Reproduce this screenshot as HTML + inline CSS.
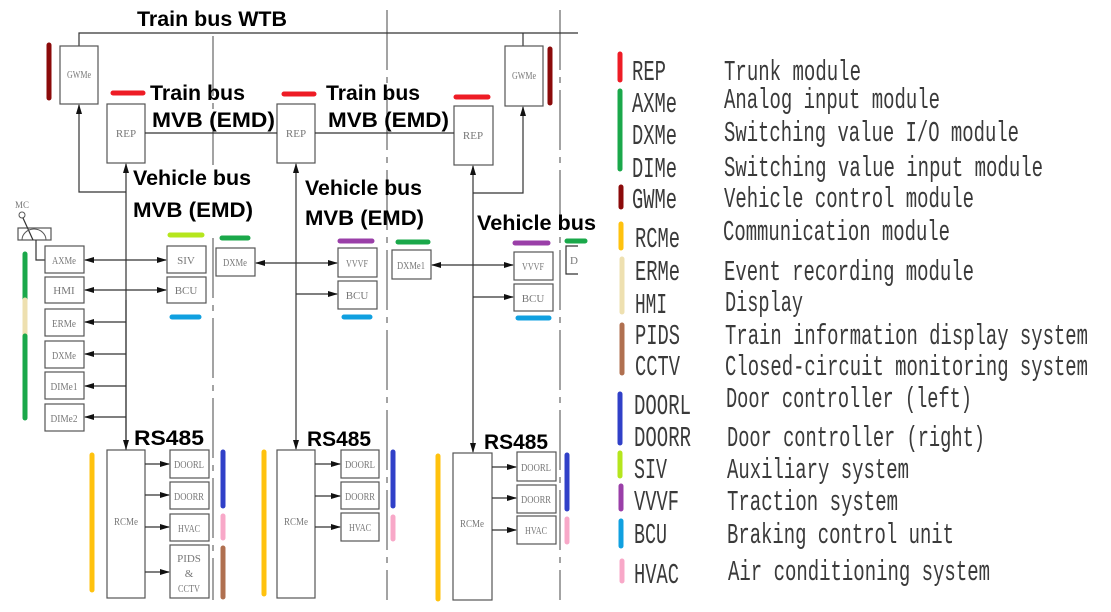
<!DOCTYPE html>
<html><head><meta charset="utf-8"><style>
html,body{margin:0;padding:0;background:#fff;width:1111px;height:612px;overflow:hidden}
svg{display:block}
.b{fill:#fff;stroke:#555;stroke-width:1.2}
.l{stroke:#333;stroke-width:1.2;fill:none}
.d{stroke:#666;stroke-width:1.2;stroke-dasharray:60 7 6 7;fill:none}
.t{font-family:"Liberation Serif",serif;font-size:11px;fill:#777;text-anchor:middle}
.h{font-family:"Liberation Sans",sans-serif;font-weight:bold;font-size:21px;fill:#000}
.g{font-family:"Liberation Mono",monospace;font-size:29px;fill:#3a3a3a}
.bar{stroke-linecap:round;stroke-width:5}
</style></head><body>
<svg width="1111" height="612" viewBox="0 0 1111 612" xmlns="http://www.w3.org/2000/svg">
<defs><marker id="a" markerWidth="10" markerHeight="8" refX="9" refY="4" orient="auto" markerUnits="userSpaceOnUse"><path d="M0,1 L10,4 L0,7 Z" fill="#111"/></marker></defs>

<line class="d" x1="213" y1="36" x2="213" y2="165"/>
<line class="d" x1="213" y1="238" x2="213" y2="600"/>
<line class="d" x1="387" y1="10" x2="387" y2="600"/>
<line class="d" x1="560" y1="10" x2="560" y2="600"/>

<text class="h" x="137" y="26" textLength="150" lengthAdjust="spacingAndGlyphs">Train bus WTB</text>
<polyline class="l" points="79,46 79,33 578,33"/>
<line class="l" x1="523" y1="33" x2="523" y2="46"/>

<rect class="b" x="60" y="46" width="38" height="58"/><text class="t" x="79" y="78" textLength="24" lengthAdjust="spacingAndGlyphs">GWMe</text>
<rect class="b" x="505" y="46" width="38" height="60"/><text class="t" x="524" y="79" textLength="24" lengthAdjust="spacingAndGlyphs">GWMe</text>
<line class="bar" x1="49" y1="45" x2="49" y2="98" stroke="#8b0a0a"/>
<line class="bar" x1="550" y1="49" x2="550" y2="103" stroke="#8b0a0a"/>

<rect class="b" x="107" y="104" width="38" height="59"/><text class="t" x="126" y="137">REP</text>
<rect class="b" x="277" y="104" width="38" height="59"/><text class="t" x="296" y="137">REP</text>
<rect class="b" x="454" y="106" width="39" height="59"/><text class="t" x="473" y="139">REP</text>
<line class="bar" x1="113" y1="93" x2="143" y2="93" stroke="#ee1c25"/>
<line class="bar" x1="284" y1="94" x2="314" y2="94" stroke="#ee1c25"/>
<line class="bar" x1="456" y1="97" x2="488" y2="97" stroke="#ee1c25"/>
<line class="l" x1="145" y1="133" x2="277" y2="133"/>
<line class="l" x1="315" y1="133" x2="454" y2="133"/>
<text class="h" x="150" y="100" textLength="95" lengthAdjust="spacingAndGlyphs">Train bus</text>
<text class="h" x="152" y="127" textLength="123" lengthAdjust="spacingAndGlyphs">MVB (EMD)</text>
<text class="h" x="326" y="100" textLength="94" lengthAdjust="spacingAndGlyphs">Train bus</text>
<text class="h" x="328" y="127" textLength="121" lengthAdjust="spacingAndGlyphs">MVB (EMD)</text>

<line class="l" x1="126" y1="450" x2="126" y2="164" marker-end="url(#a)"/>
<line class="l" x1="126" y1="300" x2="126" y2="449" marker-end="url(#a)"/>
<polyline class="l" points="126,192 79,192 79,105" marker-end="url(#a)"/>
<line class="l" x1="296" y1="300" x2="296" y2="164" marker-end="url(#a)"/>
<line class="l" x1="296" y1="300" x2="296" y2="449" marker-end="url(#a)"/>
<line class="l" x1="473" y1="300" x2="473" y2="166" marker-end="url(#a)"/>
<line class="l" x1="473" y1="300" x2="473" y2="452" marker-end="url(#a)"/>
<polyline class="l" points="473,193 523,193 523,107" marker-end="url(#a)"/>

<text class="h" x="133" y="185" textLength="118" lengthAdjust="spacingAndGlyphs">Vehicle bus</text>
<text class="h" x="133" y="217" textLength="120" lengthAdjust="spacingAndGlyphs">MVB (EMD)</text>
<text class="h" x="305" y="195" textLength="117" lengthAdjust="spacingAndGlyphs">Vehicle bus</text>
<text class="h" x="305" y="225" textLength="119" lengthAdjust="spacingAndGlyphs">MVB (EMD)</text>
<text class="h" x="477" y="230" textLength="119" lengthAdjust="spacingAndGlyphs">Vehicle bus</text>

<text class="t" x="22" y="208" style="font-size:9px">MC</text>
<circle cx="22" cy="215" r="3" fill="#fff" stroke="#555"/>
<rect class="b" x="18" y="228" width="33" height="12"/>
<line class="l" x1="23" y1="218" x2="33" y2="240" stroke="#555"/>
<path d="M22,240 A12,11 0 0 1 46,240" fill="none" stroke="#555"/>
<polyline class="l" points="36,240 36,260 45,260" stroke="#555"/>

<g>
<rect class="b" x="45" y="246" width="39" height="27"/><text class="t" x="64" y="264" textLength="24" lengthAdjust="spacingAndGlyphs">AXMe</text>
<rect class="b" x="45" y="277" width="39" height="26"/><text class="t" x="64" y="294">HMI</text>
<rect class="b" x="45" y="309" width="39" height="27"/><text class="t" x="64" y="327" textLength="24" lengthAdjust="spacingAndGlyphs">ERMe</text>
<rect class="b" x="45" y="341" width="39" height="27"/><text class="t" x="64" y="359" textLength="24" lengthAdjust="spacingAndGlyphs">DXMe</text>
<rect class="b" x="45" y="372" width="39" height="27"/><text class="t" x="64" y="390" textLength="27" lengthAdjust="spacingAndGlyphs">DIMe1</text>
<rect class="b" x="45" y="404" width="39" height="27"/><text class="t" x="64" y="422" textLength="27" lengthAdjust="spacingAndGlyphs">DIMe2</text>
</g>
<line class="bar" x1="25" y1="254" x2="25" y2="300" stroke="#1aa84a"/>
<line class="bar" x1="25" y1="300" x2="25" y2="335" stroke="#eee0b0"/>
<line class="bar" x1="25" y1="336" x2="25" y2="418" stroke="#1aa84a"/>
<line class="l" x1="126" y1="322" x2="85" y2="322" marker-end="url(#a)"/>
<line class="l" x1="126" y1="354" x2="85" y2="354" marker-end="url(#a)"/>
<line class="l" x1="126" y1="386" x2="85" y2="386" marker-end="url(#a)"/>
<line class="l" x1="126" y1="417" x2="85" y2="417" marker-end="url(#a)"/>
<line class="l" x1="105" y1="260" x2="85" y2="260" marker-end="url(#a)"/>
<line class="l" x1="105" y1="260" x2="166" y2="260" marker-end="url(#a)"/>
<line class="l" x1="105" y1="290" x2="85" y2="290" marker-end="url(#a)"/>
<line class="l" x1="105" y1="290" x2="166" y2="290" marker-end="url(#a)"/>

<rect class="b" x="167" y="246" width="39" height="27"/><text class="t" x="186" y="264">SIV</text>
<rect class="b" x="167" y="277" width="39" height="26"/><text class="t" x="186" y="294">BCU</text>
<line class="bar" x1="170" y1="235" x2="202" y2="235" stroke="#b5e61d"/>
<line class="bar" x1="172" y1="317" x2="199" y2="317" stroke="#10a0e0"/>

<rect class="b" x="216" y="248" width="39" height="28"/><text class="t" x="235" y="266" textLength="24" lengthAdjust="spacingAndGlyphs">DXMe</text>
<line class="bar" x1="222" y1="238" x2="248" y2="238" stroke="#1aa84a"/>
<line class="l" x1="280" y1="263" x2="256" y2="263" marker-end="url(#a)"/>
<line class="l" x1="280" y1="263" x2="337" y2="263" marker-end="url(#a)"/>

<rect class="b" x="338" y="248" width="39" height="29"/><text class="t" x="357" y="267" textLength="22" lengthAdjust="spacingAndGlyphs">VVVF</text>
<rect class="b" x="338" y="281" width="39" height="28"/><text class="t" x="357" y="299">BCU</text>
<line class="bar" x1="340" y1="241" x2="372" y2="241" stroke="#9a3fa8"/>
<line class="bar" x1="344" y1="317" x2="370" y2="317" stroke="#10a0e0"/>
<line class="l" x1="296" y1="294" x2="337" y2="294" marker-end="url(#a)"/>

<rect class="b" x="392" y="250" width="39" height="29"/><text class="t" x="411" y="269" textLength="28" lengthAdjust="spacingAndGlyphs">DXMe1</text>
<line class="bar" x1="398" y1="242" x2="428" y2="242" stroke="#1aa84a"/>
<line class="l" x1="470" y1="265" x2="432" y2="265" marker-end="url(#a)"/>
<line class="l" x1="470" y1="265" x2="513" y2="265" marker-end="url(#a)"/>

<rect class="b" x="514" y="252" width="39" height="28"/><text class="t" x="533" y="270" textLength="22" lengthAdjust="spacingAndGlyphs">VVVF</text>
<rect class="b" x="514" y="284" width="39" height="27"/><text class="t" x="533" y="302">BCU</text>
<line class="bar" x1="515" y1="243" x2="548" y2="243" stroke="#9a3fa8"/>
<line class="bar" x1="518" y1="318" x2="549" y2="318" stroke="#10a0e0"/>
<line class="l" x1="473" y1="297" x2="513" y2="297" marker-end="url(#a)"/>
<polyline class="l" points="578,246 566,246 566,274 578,274" stroke="#555"/>
<text class="t" x="574" y="264">D</text>
<line class="bar" x1="567" y1="241" x2="585" y2="241" stroke="#1aa84a"/>

<text class="h" x="134" y="445" textLength="70" lengthAdjust="spacingAndGlyphs">RS485</text>
<text class="h" x="307" y="446" textLength="64" lengthAdjust="spacingAndGlyphs">RS485</text>
<text class="h" x="484" y="449" textLength="64" lengthAdjust="spacingAndGlyphs">RS485</text>

<rect class="b" x="107" y="450" width="38" height="148"/><text class="t" x="126" y="525" textLength="24" lengthAdjust="spacingAndGlyphs">RCMe</text>
<line class="bar" x1="92" y1="455" x2="92" y2="590" stroke="#ffc20e"/>
<rect class="b" x="170" y="450" width="39" height="28"/><text class="t" x="189" y="468" textLength="30" lengthAdjust="spacingAndGlyphs">DOORL</text>
<rect class="b" x="170" y="482" width="39" height="27"/><text class="t" x="189" y="500" textLength="30" lengthAdjust="spacingAndGlyphs">DOORR</text>
<rect class="b" x="170" y="514" width="39" height="27"/><text class="t" x="189" y="532" textLength="22" lengthAdjust="spacingAndGlyphs">HVAC</text>
<rect class="b" x="170" y="545" width="39" height="53"/><text class="t" x="189" y="562">PIDS</text><text class="t" x="189" y="577">&amp;</text><text class="t" x="189" y="592" textLength="22" lengthAdjust="spacingAndGlyphs">CCTV</text>
<line class="l" x1="145" y1="464" x2="169" y2="464" marker-end="url(#a)"/>
<line class="l" x1="145" y1="495" x2="169" y2="495" marker-end="url(#a)"/>
<line class="l" x1="145" y1="527" x2="169" y2="527" marker-end="url(#a)"/>
<line class="l" x1="145" y1="572" x2="169" y2="572" marker-end="url(#a)"/>
<line class="bar" x1="223" y1="452" x2="223" y2="506" stroke="#3040c8"/>
<line class="bar" x1="223" y1="516" x2="223" y2="538" stroke="#f8a8c8"/>
<line class="bar" x1="223" y1="548" x2="223" y2="597" stroke="#b07050"/>

<rect class="b" x="277" y="450" width="38" height="148"/><text class="t" x="296" y="525" textLength="24" lengthAdjust="spacingAndGlyphs">RCMe</text>
<line class="bar" x1="264" y1="452" x2="264" y2="594" stroke="#ffc20e"/>
<rect class="b" x="341" y="450" width="38" height="28"/><text class="t" x="360" y="468" textLength="30" lengthAdjust="spacingAndGlyphs">DOORL</text>
<rect class="b" x="341" y="482" width="38" height="27"/><text class="t" x="360" y="500" textLength="30" lengthAdjust="spacingAndGlyphs">DOORR</text>
<rect class="b" x="341" y="513" width="38" height="28"/><text class="t" x="360" y="531" textLength="22" lengthAdjust="spacingAndGlyphs">HVAC</text>
<line class="l" x1="315" y1="464" x2="340" y2="464" marker-end="url(#a)"/>
<line class="l" x1="315" y1="496" x2="340" y2="496" marker-end="url(#a)"/>
<line class="l" x1="315" y1="527" x2="340" y2="527" marker-end="url(#a)"/>
<line class="bar" x1="393" y1="452" x2="393" y2="506" stroke="#3040c8"/>
<line class="bar" x1="393" y1="517" x2="393" y2="539" stroke="#f8a8c8"/>

<rect class="b" x="453" y="453" width="39" height="147"/><text class="t" x="472" y="527" textLength="24" lengthAdjust="spacingAndGlyphs">RCMe</text>
<line class="bar" x1="438" y1="456" x2="438" y2="599" stroke="#ffc20e"/>
<rect class="b" x="517" y="452" width="39" height="29"/><text class="t" x="536" y="471" textLength="30" lengthAdjust="spacingAndGlyphs">DOORL</text>
<rect class="b" x="517" y="485" width="39" height="28"/><text class="t" x="536" y="503" textLength="30" lengthAdjust="spacingAndGlyphs">DOORR</text>
<rect class="b" x="517" y="516" width="39" height="28"/><text class="t" x="536" y="534" textLength="22" lengthAdjust="spacingAndGlyphs">HVAC</text>
<line class="l" x1="492" y1="467" x2="516" y2="467" marker-end="url(#a)"/>
<line class="l" x1="492" y1="498" x2="516" y2="498" marker-end="url(#a)"/>
<line class="l" x1="492" y1="530" x2="516" y2="530" marker-end="url(#a)"/>
<line class="bar" x1="567" y1="455" x2="567" y2="509" stroke="#3040c8"/>
<line class="bar" x1="567" y1="519" x2="567" y2="542" stroke="#f8a8c8"/>

<line class="bar" x1="620" y1="54" x2="620" y2="80" stroke="#ee1c25"/>
<line class="bar" x1="620" y1="91" x2="620" y2="169" stroke="#1aa84a"/>
<line class="bar" x1="621" y1="187" x2="621" y2="207" stroke="#8b0a0a"/>
<line class="bar" x1="621" y1="224" x2="621" y2="248" stroke="#ffc20e"/>
<line class="bar" x1="622" y1="259" x2="622" y2="312" stroke="#eee0b0"/>
<line class="bar" x1="622" y1="325" x2="622" y2="373" stroke="#b07050"/>
<line class="bar" x1="620" y1="394" x2="620" y2="443" stroke="#3040c8"/>
<line class="bar" x1="620" y1="453" x2="620" y2="476" stroke="#b5e61d"/>
<line class="bar" x1="621" y1="486" x2="621" y2="509" stroke="#9a3fa8"/>
<line class="bar" x1="621" y1="521" x2="621" y2="546" stroke="#10a0e0"/>
<line class="bar" x1="622" y1="561" x2="622" y2="581" stroke="#f8a8c8"/>

<g class="g">
<text x="632" y="80" textLength="34" lengthAdjust="spacingAndGlyphs">REP</text>
<text x="724" y="80" textLength="137" lengthAdjust="spacingAndGlyphs">Trunk module</text>
<text x="632" y="112" textLength="45" lengthAdjust="spacingAndGlyphs">AXMe</text>
<text x="724" y="108" textLength="216" lengthAdjust="spacingAndGlyphs">Analog input module</text>
<text x="632" y="144" textLength="45" lengthAdjust="spacingAndGlyphs">DXMe</text>
<text x="724" y="141" textLength="295" lengthAdjust="spacingAndGlyphs">Switching value I/O module</text>
<text x="632" y="177" textLength="45" lengthAdjust="spacingAndGlyphs">DIMe</text>
<text x="724" y="176" textLength="319" lengthAdjust="spacingAndGlyphs">Switching value input module</text>
<text x="632" y="208" textLength="45" lengthAdjust="spacingAndGlyphs">GWMe</text>
<text x="724" y="207" textLength="250" lengthAdjust="spacingAndGlyphs">Vehicle control module</text>
<text x="635" y="247" textLength="45" lengthAdjust="spacingAndGlyphs">RCMe</text>
<text x="723" y="240" textLength="227" lengthAdjust="spacingAndGlyphs">Communication module</text>
<text x="635" y="280" textLength="45" lengthAdjust="spacingAndGlyphs">ERMe</text>
<text x="724" y="280" textLength="250" lengthAdjust="spacingAndGlyphs">Event recording module</text>
<text x="635" y="313" textLength="32" lengthAdjust="spacingAndGlyphs">HMI</text>
<text x="725" y="311" textLength="78" lengthAdjust="spacingAndGlyphs">Display</text>
<text x="635" y="344" textLength="45" lengthAdjust="spacingAndGlyphs">PIDS</text>
<text x="725" y="344" textLength="363" lengthAdjust="spacingAndGlyphs">Train information display system</text>
<text x="635" y="375" textLength="45" lengthAdjust="spacingAndGlyphs">CCTV</text>
<text x="725" y="375" textLength="363" lengthAdjust="spacingAndGlyphs">Closed-circuit monitoring system</text>
<text x="634" y="414" textLength="57" lengthAdjust="spacingAndGlyphs">DOORL</text>
<text x="726" y="407" textLength="246" lengthAdjust="spacingAndGlyphs">Door controller (left)</text>
<text x="634" y="446" textLength="57" lengthAdjust="spacingAndGlyphs">DOORR</text>
<text x="727" y="446" textLength="258" lengthAdjust="spacingAndGlyphs">Door controller (right)</text>
<text x="634" y="478" textLength="33" lengthAdjust="spacingAndGlyphs">SIV</text>
<text x="727" y="478" textLength="182" lengthAdjust="spacingAndGlyphs">Auxiliary system</text>
<text x="634" y="510" textLength="45" lengthAdjust="spacingAndGlyphs">VVVF</text>
<text x="727" y="510" textLength="171" lengthAdjust="spacingAndGlyphs">Traction system</text>
<text x="634" y="543" textLength="33" lengthAdjust="spacingAndGlyphs">BCU</text>
<text x="727" y="543" textLength="227" lengthAdjust="spacingAndGlyphs">Braking control unit</text>
<text x="634" y="583" textLength="45" lengthAdjust="spacingAndGlyphs">HVAC</text>
<text x="728" y="580" textLength="262" lengthAdjust="spacingAndGlyphs">Air conditioning system</text>
</g>
</svg>
</body></html>
